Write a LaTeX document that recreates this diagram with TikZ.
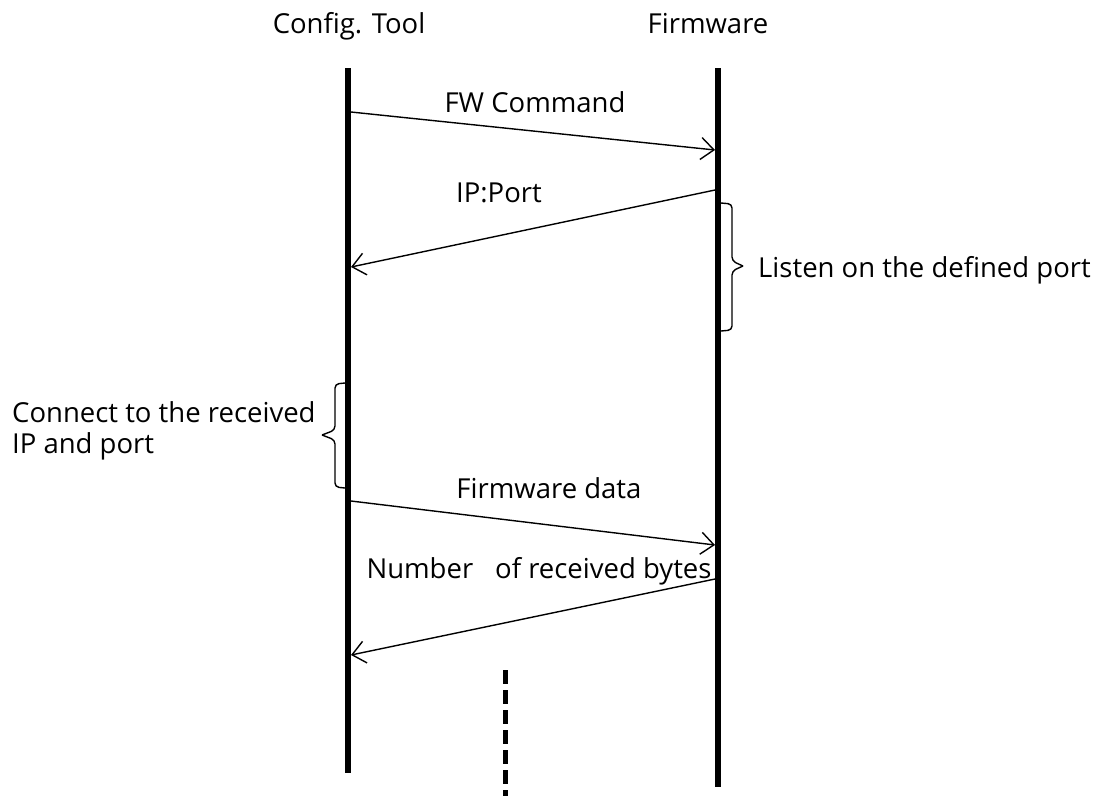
\documentclass[tikz,border=0pt]{standalone}
\usepackage{fontspec}
\setmainfont{Open Sans}
\usetikzlibrary{arrows.meta}
\begin{document}
\begin{tikzpicture}[x=1pt,y=-1pt,
        lifeline/.style={line width=6pt},
        msg/.style={line width=1.4pt,-{Straight Barb[length=13pt,width=22pt,line width=1.4pt]}},
        lbl/.style={font=\fontsize{27.5}{31}\selectfont,inner sep=0pt},
        curly/.style={line width=1.4pt,rounded corners=4pt}]
            \useasboundingbox (0,0) rectangle (1105,796);

            % lifelines
            \node[lbl,anchor=base] (tool) at (349,33) {Config. Tool};
            \node[lbl,anchor=base] (fw) at (708,33) {Firmware};
            \coordinate (tooltop) at (348,68);
            \coordinate (toolend) at (348,773);
            \coordinate (fwtop) at (718,68);
            \coordinate (fwend) at (718,787);
            \draw [lifeline] (tooltop) -- (toolend);
            \draw [lifeline] (fwtop) -- (fwend);

            % messages
            \coordinate (cmds) at (351,112);
            \coordinate (cmde) at (715,150);
            \coordinate (ips) at (715,190);
            \coordinate (ipe) at (351,267);
            \coordinate (datas) at (351,501);
            \coordinate (datae) at (715,545);
            \coordinate (bytess) at (715,579);
            \coordinate (bytese) at (351,655);
            \draw [msg] (cmds) -- (cmde);
            \draw [msg] (ips) -- (ipe);
            \draw [msg] (datas) -- (datae);
            \draw [msg] (bytess) -- (bytese);
            \node[lbl,anchor=base] (cmdlbl) at (535,112) {FW Command};
            \node[lbl,anchor=base] (iplbl) at (499,202) {IP:Port};
            \node[lbl,anchor=base] (datalbl) at (549,498) {Firmware data};
            \node[lbl,anchor=base] (byteslbl) at (539,578) {Number\hspace{0.8em}of received bytes};

            % braces
            \coordinate (listens) at (721,203);
            \coordinate (listentip) at (743,266);
            \coordinate (listene) at (721,331);
            \draw [curly] (listens) -- (732,204) -- (732,261) -- (listentip);
            \draw [curly] (listentip) -- (732,271) -- (732,330) -- (listene);
            \node[lbl,anchor=base west] (listenlbl) at (758,277) {Listen on the defined port};
            \coordinate (conns) at (345,383);
            \coordinate (conntip) at (322,435);
            \coordinate (conne) at (345,488);
            \draw [curly] (conns) -- (335,384) -- (335,430) -- (conntip);
            \draw [curly] (conntip) -- (335,440) -- (335,487) -- (conne);
            \node[lbl,anchor=base west,align=left] (connlbl) at (12,453) {Connect to the received\\IP and port};

            % continuation
            \coordinate (dots) at (505,670);
            \coordinate (dote) at (505,796);
            \draw [line width=5pt,dash pattern=on 14pt off 6pt] (dots) -- (dote);
        \end{tikzpicture}
\end{document}
